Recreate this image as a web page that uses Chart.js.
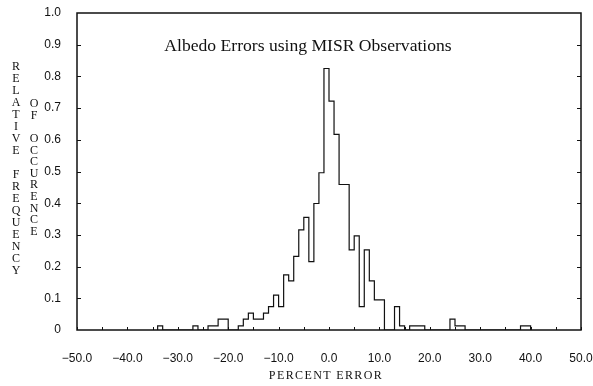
<!DOCTYPE html>
<html><head><meta charset="utf-8">
<script src="https://cdn.jsdelivr.net/npm/chart.js@4/dist/chart.umd.min.js"></script>
<style>
html,body{margin:0;padding:0;background:#fff;}
#wrap{position:relative;width:593px;height:386px;overflow:hidden;}
canvas{position:absolute;left:0;top:0;}
.t{position:absolute;font-family:"Liberation Serif","Times New Roman",serif;color:#111;white-space:nowrap;transform:translate(-50%,-50%);}
.col{position:absolute;font-family:"Liberation Serif","Times New Roman",serif;font-size:12px;text-align:center;width:16px;color:#111;}
</style></head><body>
<div id="wrap">
<canvas id="c" width="593" height="386"></canvas>
<div class="t" id="title" style="left:308px;top:45px;font-size:17.6px;"></div>
<div class="t" id="xtitle" style="left:326px;top:375px;font-size:12px;letter-spacing:1.4px;"></div>
<div class="col" id="ycol1" style="left:8px;top:59.5px;line-height:12px;"></div>
<div class="col" id="ycol2" style="left:26px;top:98.2px;line-height:11.6px;"></div>
</div>
<script>
// ---- data ----
const chartTitle = "Albedo Errors using MISR Observations";
const xAxisTitle = "PERCENT ERROR";
const yAxisTitle1 = "RELATIVE FREQUENCY";
const yAxisTitle2 = "OF OCCURENCE";
const BIN_WIDTH = 1;
// left edges (percent error) of the non-empty bins
const binLeft = [-34,-27,-24,-23,-22,-21,-18,-17,-16,-15,-14,-13,-12,-11,-10,-9,-8,-7,-6,-5,-4,-3,-2,-1,
                 0,1,2,3,4,5,6,7,8,9,10,13,14,16,17,18,24,25,26,38,39];
// relative frequency of occurrence in each bin
const relFreq = [0.013,0.013,0.013,0.013,0.034,0.034,0.013,0.034,0.053,0.034,0.034,0.053,0.074,0.110,0.074,0.174,0.155,0.232,0.316,0.355,0.216,0.399,0.496,0.825,
                 0.722,0.617,0.459,0.459,0.253,0.297,0.074,0.253,0.155,0.095,0.095,0.074,0.013,0.013,0.013,0.013,0.034,0.013,0.013,0.013,0.013];
const xTickValues = [-50,-40,-30,-20,-10,0,10,20,30,40,50];
const xTickLabels = ["\u221250.0","\u221240.0","\u221230.0","\u221220.0","\u221210.0","0.0","10.0","20.0","30.0","40.0","50.0"];
const yTickValues = [0,0.1,0.2,0.3,0.4,0.5,0.6,0.7,0.8,0.9,1.0];
const yTickLabels = ["0","0.1","0.2","0.3","0.4","0.5","0.6","0.7","0.8","0.9","1.0"];

// ---- text ----
document.getElementById('title').textContent = chartTitle;
document.getElementById('xtitle').textContent = xAxisTitle;
function stack(el, s){ el.innerHTML = s.split('').map(ch => ch === ' ' ? '&nbsp;' : ch).join('<br>'); }
stack(document.getElementById('ycol1'), yAxisTitle1);
stack(document.getElementById('ycol2'), yAxisTitle2);

// ---- histogram outline built from bins ----
const pts = [];
let prevEnd = null;
binLeft.forEach((l, i) => {
  if (prevEnd !== l) {
    if (prevEnd !== null) pts.push({x: prevEnd, y: 0});
    pts.push({x: l, y: 0});
  }
  pts.push({x: l, y: relFreq[i]});
  prevEnd = l + BIN_WIDTH;
});
pts.push({x: prevEnd, y: 0});

const frame = {
  id: 'frame',
  afterDatasetsDraw(chart) {
    const {ctx, chartArea: a, scales} = chart;
    ctx.save();
    ctx.strokeStyle = '#111';
    ctx.lineWidth = 1.5;
    ctx.strokeRect(a.left, a.top, a.right - a.left, a.bottom - a.top);
    ctx.lineWidth = 1;
    ctx.beginPath();
    for (let v = -50; v <= 50; v += 5) {
      const px = Math.round(scales.x.getPixelForValue(v)) + 0.5;
      ctx.moveTo(px, a.bottom); ctx.lineTo(px, a.bottom - 3);
    }
    for (let k = 1; k < 10; k++) {
      const py = Math.round(scales.y.getPixelForValue(k / 10)) + 0.5;
      ctx.moveTo(a.left, py); ctx.lineTo(a.left + 4, py);
      ctx.moveTo(a.right, py); ctx.lineTo(a.right - 4, py);
    }
    ctx.stroke();
    ctx.restore();
  }
};

new Chart(document.getElementById('c'), {
  type: 'line',
  data: { datasets: [{
    data: pts,
    stepped: 'before',
    borderColor: '#111',
    borderWidth: 1.2,
    pointRadius: 0,
    fill: false,
    tension: 0
  }]},
  options: {
    responsive: false,
    animation: false,
    devicePixelRatio: 1,
    layout: { padding: { top: 13, right: 12, left: 0, bottom: 0 } },
    plugins: { legend: { display: false }, tooltip: { enabled: false }, title: { display: false } },
    scales: {
      x: {
        type: 'linear', min: -50, max: 50,
        grid: { display: false }, border: { display: false },
        ticks: {
          stepSize: 10, autoSkip: false, maxRotation: 0, padding: 13,
          color: '#111', font: { family: '"Liberation Sans", Arial, sans-serif', size: 12 },
          callback: (v) => { const i = xTickValues.indexOf(v); return i >= 0 ? xTickLabels[i] : ''; }
        },
        afterFit: (s) => { s.height = 56; s.paddingLeft = 0; s.paddingRight = 0; }
      },
      y: {
        type: 'linear', min: 0, max: 1,
        grid: { display: false }, border: { display: false },
        ticks: {
          stepSize: 0.1, autoSkip: false, padding: 8,
          color: '#111', font: { family: '"Liberation Sans", Arial, sans-serif', size: 12 },
          callback: (v) => { const i = Math.round(v * 10); return yTickLabels[i]; }
        },
        afterFit: (s) => { s.width = 77; s.paddingTop = 0; s.paddingBottom = 0; }
      }
    }
  },
  plugins: [frame]
});
</script>
</body></html>
